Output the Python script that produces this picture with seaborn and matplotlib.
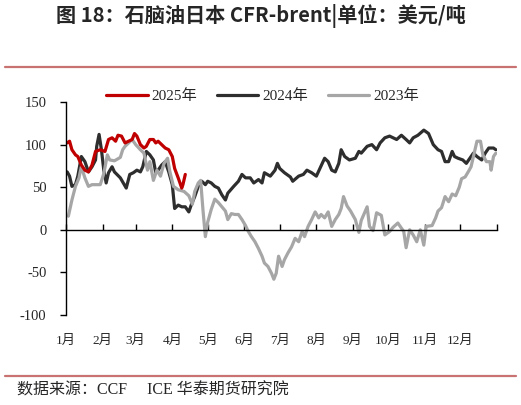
import pandas as pd
import seaborn as sns
from matplotlib import pyplot as plt
from matplotlib.lines import Line2D

# day of year / spread value (USD/t)
days_2025 = [1, 3, 5, 8, 10, 13, 16, 19, 22, 25, 29, 33, 36, 39, 42, 44, 47, 50, 53,
             56, 58, 60, 63, 66, 68, 71, 74, 76, 78, 81, 84, 87, 90, 92, 95, 98, 99, 101]
vals_2025 = [102, 104, 94, 88, 86, 76, 70, 68, 76, 92, 94, 92, 106, 108, 104, 111, 110, 102, 104,
             106, 113, 110, 100, 96, 98, 106, 106, 102, 104, 100, 96, 94, 86, 72, 61, 49, 53, 65]

days_2024 = [1, 3, 5, 8, 10, 13, 16, 19, 22, 25, 26, 28, 30, 32, 34, 36, 39, 41, 46, 51,
             54, 57, 60, 63, 65, 68, 71, 74, 76, 78, 81, 84, 87, 90, 92, 95, 98, 101, 104, 106,
             109, 112, 115, 118, 120, 123, 126, 129, 132, 135, 137, 142, 146, 149, 152, 156, 159, 163, 166, 168,
             173, 177, 179, 181, 185, 190, 192, 197, 201, 204, 208, 212, 217, 219, 222, 225, 228, 231, 233, 236,
             240, 245, 248, 250, 255, 259, 263, 266, 270, 274, 277, 280, 284, 288, 291, 294, 298, 303, 307, 311,
             315, 318, 321, 324, 327, 329, 332, 336, 339, 342, 345, 348, 352, 355, 358, 362, 364]
vals_2024 = [68, 63, 51, 53, 63, 86, 80, 68, 74, 82, 98, 112, 94, 70, 55, 67, 74, 68, 61, 49,
             65, 67, 70, 68, 74, 92, 88, 82, 67, 70, 76, 80, 68, 53, 25, 29, 27, 27, 21, 29,
             39, 51, 57, 53, 57, 55, 51, 49, 41, 35, 43, 51, 57, 65, 61, 61, 55, 59, 55, 67,
             63, 70, 78, 72, 67, 62, 57, 63, 65, 70, 67, 63, 78, 84, 80, 70, 68, 78, 94, 86,
             82, 84, 92, 90, 98, 100, 94, 102, 108, 110, 108, 106, 111, 106, 102, 108, 111, 117, 113, 100,
             94, 92, 80, 80, 92, 86, 84, 82, 78, 84, 90, 86, 82, 90, 96, 96, 94]

days_2023 = [2, 5, 8, 11, 12, 13, 16, 19, 22, 29, 32, 35, 37, 41, 46, 48, 50, 53, 56, 59,
             63, 66, 69, 71, 74, 77, 80, 83, 86, 88, 91, 95, 100, 104, 107, 109, 112, 114, 116, 118,
             120, 123, 126, 129, 132, 135, 137, 140, 143, 146, 149, 152, 154, 157, 160, 163, 166, 168, 171, 174,
             176, 178, 180, 183, 185, 188, 191, 194, 197, 200, 202, 205, 208, 211, 214, 216, 219, 222, 225, 228,
             231, 233, 235, 238, 241, 245, 248, 250, 255, 257, 260, 263, 267, 270, 274, 277, 281, 286, 288, 291,
             294, 297, 300, 303, 305, 310, 313, 315, 318, 321, 324, 327, 330, 333, 335, 338, 341, 343, 346, 348,
             351, 353, 356, 359, 360, 362, 364]
vals_2023 = [16, 35, 51, 61, 68, 74, 61, 51, 53, 53, 66, 88, 82, 81, 85, 94, 98, 102, 106, 100,
             94, 90, 70, 80, 58, 70, 63, 78, 84, 68, 51, 47, 45, 40, 30, 45, 55, 58, 23, -8,
             9, 24, 36, 32, 27, 22, 12, 19, 18, 18, 12, 5, -1, -8, -14, -22, -31, -39, -43, -51,
             -58, -51, -31, -43, -35, -27, -20, -10, -14, -2, -8, 4, 12, 21, 14, 18, 14, 21, 4, 12,
             18, 25, 39, 28, 22, 12, -3, 11, 27, 4, -1, 20, 17, -6, -2, 3, 8, -2, -21, 0,
             -6, -14, 0, -18, 4, 5, 14, 22, 26, 39, 33, 42, 40, 50, 60, 62, 69, 74, 92, 104,
             104, 88, 80, 80, 70, 86, 90]

month_starts = [0, 31, 59, 90, 120, 151, 181, 212, 243, 273, 304, 334, 365]
month_labels = [f'{m}月' for m in range(1, 13)]
y_ticks = [-100, -50, 0, 50, 100, 150]

series_names = ['2025年', '2024年', '2023年']
colors = {'2025年': '#C00000', '2024年': '#2E2E2E', '2023年': '#A6A6A6'}

df = pd.concat([
    pd.DataFrame({'day': days_2025, 'value': vals_2025, 'year': '2025年'}),
    pd.DataFrame({'day': days_2024, 'value': vals_2024, 'year': '2024年'}),
    pd.DataFrame({'day': days_2023, 'value': vals_2023, 'year': '2023年'}),
])

sns.set_style("white")
serif = ['Liberation Serif', 'Noto Sans CJK SC']
plt.rcParams['font.family'] = serif

fig = plt.figure(figsize=(5.21, 4.05), dpi=100)
ax = fig.add_axes([0.1267, 0.2222, 0.8273, 0.5259])

sns.lineplot(data=df, x='day', y='value', hue='year',
             hue_order=['2024年', '2023年', '2025年'], palette=colors,
             linewidth=2.3, estimator=None, sort=False, ax=ax)

ax.set_xlim(0, 365)
ax.set_ylim(-100, 150)
ax.set_xlabel('')
ax.set_ylabel('')

for s in ['top', 'right']:
    ax.spines[s].set_visible(False)
ax.spines['left'].set_color('black')
ax.spines['left'].set_linewidth(1)
ax.spines['bottom'].set_position(('data', 0))
ax.spines['bottom'].set_color('black')
ax.spines['bottom'].set_linewidth(1)

ax.set_yticks(y_ticks)
ax.set_yticklabels([str(v) for v in y_ticks])
ax.tick_params(axis='y', direction='out', length=4, width=1, color='black',
               pad=10, labelsize=10.5, left=True)
ax.set_xticks(month_starts)
ax.tick_params(axis='x', direction='in', length=4, width=1, color='black',
               labelbottom=False, bottom=True)

sec = ax.secondary_xaxis('bottom')
sec.set_xticks(month_starts[:12], month_labels)
sec.spines['bottom'].set_visible(False)
sec.tick_params(axis='x', length=0, pad=14, labelsize=9.5)

handles, labels = ax.get_legend_handles_labels()
ax.get_legend().remove()
order = [labels.index(n) for n in series_names]
fig.legend([handles[i] for i in order], [labels[i] for i in order],
           loc='center', bbox_to_anchor=(0.504, 0.763), ncol=3, frameon=False,
           prop={'family': serif, 'size': 11}, handlelength=2.7,
           handletextpad=0.25, columnspacing=1.3)

fig.text(0.5, 0.9605, '图 18：石脑油日本 CFR-brent|单位：美元/吨', ha='center', va='center',
         fontsize=14.5, fontweight='bold', family=['Noto Sans CJK SC', 'DejaVu Sans'])

sep = '#C87272'
fig.add_artist(Line2D([0.0096, 0.990], [0.8346, 0.8346], color=sep, linewidth=1.6,
                      transform=fig.transFigure))
fig.add_artist(Line2D([0.0096, 0.990], [0.0716, 0.0716], color=sep, linewidth=1.6,
                      transform=fig.transFigure))

fig.text(0.0326, 0.0346, '数据来源：CCF     ICE 华泰期货研究院', ha='left', va='center',
         fontsize=11.5, family=serif)

plt.savefig('out.png', dpi=100)
